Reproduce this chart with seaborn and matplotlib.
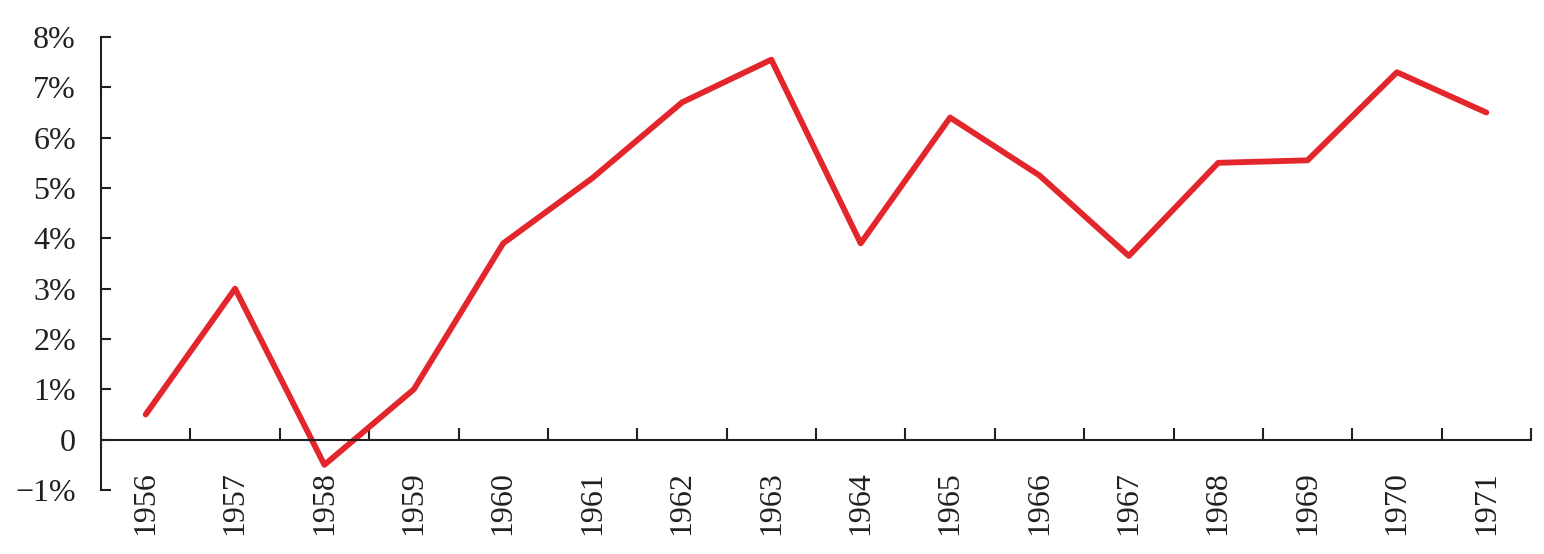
import matplotlib
matplotlib.use("Agg")
import matplotlib.pyplot as plt
import seaborn as sns
import pandas as pd
from matplotlib.ticker import FixedLocator

years = ["1956", "1957", "1958", "1959", "1960", "1961", "1962", "1963",
         "1964", "1965", "1966", "1967", "1968", "1969", "1970", "1971"]
values = [0.5, 3.0, -0.5, 1.0, 3.9, 5.2, 6.7, 7.55,
          3.9, 6.4, 5.25, 3.65, 5.5, 5.55, 7.3, 6.5]
y_ticks = [-1, 0, 1, 2, 3, 4, 5, 6, 7, 8]
y_tick_labels = ["\u22121%", "0", "1%", "2%", "3%", "4%", "5%", "6%", "7%", "8%"]

sns.set_theme(style="white")
plt.rcParams['font.family'] = ['Liberation Serif', 'DejaVu Serif']
ink = "#231F20"

fig = plt.figure(figsize=(15.44, 5.54), dpi=100)
ax = fig.add_axes([101/1544, 1 - 490/554, (1531 - 101)/1544, (490 - 37)/554])

df = pd.DataFrame({"year": years, "value": values})
sns.lineplot(data=df, x="year", y="value", ax=ax, color="#E3262B",
             linewidth=4.2, sort=False)

ax.set_xlim(-0.5, len(years) - 0.5)
ax.set_ylim(-1, 8)
ax.set_xlabel("")
ax.set_ylabel("")

ax.spines["top"].set_visible(False)
ax.spines["right"].set_visible(False)
ax.spines["bottom"].set_position(("data", 0))
for s in ("left", "bottom"):
    ax.spines[s].set_color(ink)
    ax.spines[s].set_linewidth(1.5)

ax.set_yticks(y_ticks)
ax.set_yticklabels(y_tick_labels)
ax.tick_params(axis="y", direction="in", length=7, width=1.5, color=ink,
               labelsize=23, labelcolor=ink, pad=18, left=True)

ax.set_xticks(range(len(years)))
ax.set_xticklabels(years, rotation=90, va="top", ha="center")
ax.tick_params(axis="x", which="major", length=0, labelsize=23,
               labelcolor=ink, pad=23, bottom=True)
ax.xaxis.set_minor_locator(FixedLocator([i + 0.5 for i in range(len(years))]))
ax.tick_params(axis="x", which="minor", direction="in", length=9, width=1.5,
               color=ink, bottom=True)
ax.grid(False)

fig.savefig("out.png", dpi=100)
